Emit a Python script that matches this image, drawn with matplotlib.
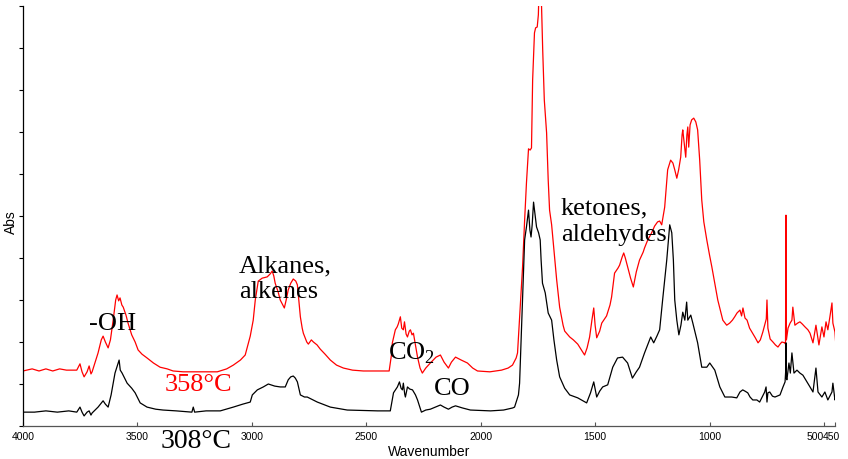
import matplotlib
matplotlib.use("Agg")
import matplotlib.pyplot as plt
import matplotlib.transforms as mtransforms

plt.rcParams['mathtext.fontset'] = 'custom'
plt.rcParams['mathtext.rm'] = 'Liberation Serif'

# ---------------- data ----------------
wn_358 = [4000, 3960, 3930, 3900, 3870, 3840, 3810, 3790, 3765, 3751, 3742, 3733, 3720, 3711, 3703, 3698,
          3672, 3658, 3650, 3640, 3628, 3618, 3606, 3595, 3589, 3582, 3576, 3568, 3562, 3550, 3541, 3525,
          3510, 3497, 3480, 3458, 3430, 3401, 3370, 3344, 3300, 3256, 3200, 3151, 3110, 3081, 3050, 3029,
          3007, 2994, 2985, 2972, 2955, 2933, 2920, 2911, 2904, 2898, 2885, 2876, 2858, 2850, 2841, 2830,
          2819, 2808, 2801, 2795, 2788, 2780, 2775, 2760, 2753, 2740, 2731, 2715, 2701, 2680, 2657, 2630,
          2600, 2560, 2513, 2450, 2400, 2390, 2386, 2373, 2365, 2360, 2351, 2345, 2338, 2333, 2326, 2320,
          2312, 2307, 2300, 2294, 2285, 2276, 2265, 2255, 2240, 2220, 2195, 2176, 2160, 2141, 2128, 2110,
          2085, 2058, 2035, 2014, 1960, 1909, 1880, 1861, 1845, 1839, 1828, 1817, 1808, 1800, 1791, 1784,
          1778, 1773, 1765, 1760, 1753, 1748, 1744, 1738, 1734, 1729, 1722, 1712, 1705, 1699, 1690, 1686,
          1675, 1668, 1655, 1640, 1633, 1611, 1595, 1576, 1560, 1546, 1535, 1524, 1514, 1506, 1500, 1493,
          1480, 1471, 1450, 1435, 1428, 1415, 1400, 1393, 1382, 1375, 1368, 1358, 1345, 1333, 1320, 1306,
          1290, 1284, 1270, 1253, 1240, 1227, 1218, 1209, 1196, 1183, 1170, 1160, 1152, 1143, 1135, 1126,
          1120, 1117, 1110, 1104, 1099, 1095, 1091, 1085, 1078, 1069, 1060, 1052, 1043, 1034, 1025, 1012,
          1000, 990, 977, 964, 950, 942, 925, 912, 900, 890, 880, 867, 860, 854, 845, 836,
          825, 815, 800, 788, 778, 767, 752, 749, 745, 735, 723, 712, 701, 692, 684, 671,
          668, 666, 664, 657, 648, 640, 636, 627, 615, 605, 595, 583, 570, 561, 548, 535,
          522, 509, 500, 491, 483, 474, 465, 461, 452, 448]
abs_358 = [0.131, 0.136, 0.131, 0.136, 0.131, 0.136, 0.133, 0.133, 0.133, 0.148, 0.129, 0.117, 0.129, 0.143, 0.124, 0.129,
           0.174, 0.205, 0.214, 0.200, 0.186, 0.205, 0.252, 0.300, 0.312, 0.298, 0.305, 0.288, 0.283, 0.264, 0.245, 0.217,
           0.200, 0.181, 0.171, 0.162, 0.150, 0.140, 0.136, 0.131, 0.129, 0.129, 0.129, 0.129, 0.136, 0.145, 0.157, 0.169,
           0.214, 0.252, 0.300, 0.345, 0.352, 0.355, 0.362, 0.369, 0.357, 0.340, 0.319, 0.300, 0.281, 0.300, 0.324, 0.340,
           0.350, 0.345, 0.336, 0.300, 0.260, 0.233, 0.221, 0.200, 0.195, 0.205, 0.200, 0.193, 0.183, 0.171, 0.157, 0.145,
           0.138, 0.133, 0.131, 0.131, 0.131, 0.169, 0.198, 0.229, 0.236, 0.243, 0.260, 0.233, 0.229, 0.248, 0.219, 0.212,
           0.226, 0.229, 0.217, 0.221, 0.193, 0.164, 0.138, 0.126, 0.138, 0.150, 0.164, 0.169, 0.152, 0.138, 0.152, 0.164,
           0.157, 0.150, 0.138, 0.131, 0.129, 0.133, 0.138, 0.145, 0.162, 0.174, 0.276, 0.379, 0.490, 0.579, 0.660, 0.657,
           0.662, 0.824, 0.936, 0.948, 0.950, 0.979, 1.062, 1.038, 0.998, 0.895, 0.776, 0.698, 0.586, 0.514, 0.479, 0.455,
           0.390, 0.348, 0.283, 0.240, 0.226, 0.212, 0.205, 0.195, 0.181, 0.169, 0.186, 0.212, 0.252, 0.281, 0.240, 0.210,
           0.226, 0.245, 0.262, 0.288, 0.307, 0.364, 0.376, 0.383, 0.402, 0.412, 0.400, 0.379, 0.352, 0.331, 0.367, 0.395,
           0.414, 0.424, 0.443, 0.460, 0.476, 0.486, 0.488, 0.479, 0.521, 0.610, 0.633, 0.626, 0.610, 0.590, 0.610, 0.640,
           0.693, 0.705, 0.669, 0.640, 0.693, 0.712, 0.664, 0.717, 0.729, 0.733, 0.724, 0.705, 0.633, 0.538, 0.486, 0.443,
           0.407, 0.379, 0.340, 0.300, 0.269, 0.252, 0.240, 0.245, 0.252, 0.260, 0.269, 0.276, 0.262, 0.281, 0.257, 0.252,
           0.233, 0.224, 0.210, 0.198, 0.205, 0.224, 0.255, 0.300, 0.233, 0.207, 0.200, 0.193, 0.188, 0.195, 0.200, 0.198,
           0.195, 0.502, 0.205, 0.233, 0.245, 0.252, 0.283, 0.240, 0.245, 0.248, 0.243, 0.236, 0.229, 0.221, 0.198, 0.240,
           0.193, 0.236, 0.212, 0.248, 0.229, 0.260, 0.293, 0.245, 0.224, 0.193]

wn_308 = [4000, 3950, 3900, 3850, 3800, 3765, 3751, 3742, 3733, 3720, 3711, 3703, 3698, 3672, 3650, 3640,
          3628, 3615, 3598, 3588, 3580, 3575, 3567, 3545, 3525, 3510, 3488, 3458, 3420, 3388, 3330, 3262,
          3256, 3250, 3200, 3138, 3081, 3040, 3007, 2998, 2976, 2950, 2928, 2900, 2876, 2854, 2841, 2830,
          2819, 2810, 2801, 2788, 2770, 2758, 2740, 2714, 2680, 2657, 2583, 2450, 2395, 2381, 2364, 2355,
          2348, 2342, 2338, 2332, 2329, 2320, 2310, 2298, 2285, 2276, 2259, 2240, 2220, 2176, 2160, 2141,
          2125, 2110, 2080, 2045, 1957, 1900, 1860, 1852, 1835, 1830, 1817, 1808, 1800, 1791, 1785, 1780,
          1775, 1769, 1762, 1756, 1747, 1740, 1736, 1730, 1718, 1705, 1690, 1680, 1668, 1655, 1633, 1611,
          1576, 1537, 1520, 1506, 1493, 1480, 1467, 1445, 1423, 1402, 1380, 1358, 1337, 1320, 1306, 1284,
          1257, 1244, 1230, 1218, 1205, 1187, 1174, 1165, 1158, 1152, 1143, 1134, 1125, 1117, 1108, 1100,
          1095, 1082, 1073, 1052, 1034, 1012, 999, 977, 955, 933, 903, 881, 867, 855, 845, 833,
          823, 811, 793, 781, 770, 759, 753, 749, 745, 737, 725, 714, 692, 679, 670, 667,
          666, 664, 662, 653, 647, 640, 636, 631, 618, 605, 592, 574, 561, 548, 535, 526,
          509, 496, 483, 465, 461, 452, 448]
abs_308 = [0.033, 0.033, 0.036, 0.033, 0.036, 0.033, 0.045, 0.033, 0.024, 0.033, 0.036, 0.026, 0.031, 0.045, 0.060, 0.052,
           0.045, 0.074, 0.126, 0.143, 0.157, 0.133, 0.126, 0.102, 0.090, 0.079, 0.055, 0.045, 0.040, 0.038, 0.036, 0.033,
           0.045, 0.033, 0.036, 0.036, 0.045, 0.052, 0.057, 0.074, 0.086, 0.093, 0.100, 0.095, 0.093, 0.093, 0.110, 0.117,
           0.119, 0.114, 0.105, 0.074, 0.069, 0.069, 0.064, 0.057, 0.050, 0.045, 0.038, 0.036, 0.036, 0.079, 0.093, 0.105,
           0.090, 0.086, 0.102, 0.076, 0.069, 0.093, 0.088, 0.086, 0.074, 0.062, 0.033, 0.038, 0.040, 0.050, 0.045, 0.040,
           0.045, 0.048, 0.043, 0.038, 0.036, 0.038, 0.043, 0.045, 0.074, 0.102, 0.300, 0.443, 0.474, 0.514, 0.467, 0.450,
           0.479, 0.533, 0.502, 0.474, 0.460, 0.443, 0.395, 0.340, 0.317, 0.269, 0.252, 0.205, 0.157, 0.117, 0.090, 0.074,
           0.067, 0.055, 0.079, 0.105, 0.069, 0.083, 0.093, 0.098, 0.140, 0.162, 0.164, 0.150, 0.114, 0.129, 0.140, 0.174,
           0.212, 0.198, 0.214, 0.229, 0.300, 0.395, 0.479, 0.460, 0.395, 0.300, 0.252, 0.217, 0.240, 0.271, 0.252, 0.295,
           0.252, 0.264, 0.245, 0.198, 0.140, 0.140, 0.150, 0.133, 0.093, 0.069, 0.069, 0.067, 0.081, 0.086, 0.083, 0.079,
           0.069, 0.062, 0.062, 0.057, 0.069, 0.081, 0.093, 0.057, 0.079, 0.081, 0.071, 0.069, 0.074, 0.093, 0.105, 0.133,
           0.198, 0.114, 0.110, 0.150, 0.126, 0.174, 0.152, 0.126, 0.133, 0.126, 0.121, 0.105, 0.093, 0.081, 0.138, 0.081,
           0.069, 0.081, 0.062, 0.081, 0.102, 0.062, 0.067]

x_ticks = [4000, 3500, 3000, 2500, 2000, 1500, 1000, 500, 450]
x_ticklabels = ["4000", "3500", "3000", "2500", "2000", "1500", "1000", "500", "450"]

# ---------------- figure ----------------
W, H = 848, 459
fig = plt.figure(figsize=(W / 100, H / 100), dpi=100)
ax = fig.add_axes([23 / W, 1 - 426 / H, 812.4 / W, 420 / H])

ax.plot(wn_358, abs_358, color='#ff0000', lw=0.9)
ax.plot(wn_308, abs_308, color='black', lw=0.9)

ax.set_xlim(4000, 450)
ax.set_ylim(0, 1.0)

ax.spines['top'].set_visible(False)
ax.spines['right'].set_visible(False)
ax.spines['bottom'].set_color('#555555')
ax.spines['left'].set_color('black')
ax.spines['bottom'].set_linewidth(0.9)
ax.spines['left'].set_linewidth(0.9)

ax.set_xticks(x_ticks)
ax.set_xticklabels(x_ticklabels, family='Liberation Sans', fontsize=7.5)
ax.tick_params(axis='x', direction='in', length=3, width=0.8, color='#555555', pad=4)
# the crowded end labels: "500" ends at its tick, "450" sits right after it
labels = ax.get_xticklabels()
labels[-2].set_ha('right')
labels[-1].set_transform(labels[-1].get_transform() +
                         mtransforms.ScaledTranslation(-4 / 100, 0, fig.dpi_scale_trans))

ax.set_yticks([i / 10 for i in range(11)])
ax.set_yticklabels([])
ax.tick_params(axis='y', direction='out', length=3, width=0.8)

ax.set_xlabel('Wavenumber', family='Liberation Sans', fontsize=10)
ax.xaxis.set_label_coords(0.5, -0.045)
ax.xaxis.label.set_va('top')
ax.set_ylabel('Abs', family='Liberation Sans', fontsize=10)
ax.yaxis.set_label_coords(-0.006, 0.485)


def ftext(px, py, s, color='black', size=19):
    fig.text(px / W, 1 - py / H, s, color=color, fontsize=size,
             family='Liberation Serif', va='baseline', ha='left')


ftext(89, 330, '-OH')
ftext(239, 272, 'Alkanes,')
ftext(239, 298, 'alkenes')
ftext(165, 391, '358°C', color='#ff0000')
ftext(161, 448, '308°C', size=20)
ftext(388, 360, r'CO$_\mathrm{2}$')
ftext(434, 395, 'CO')
ftext(561, 214, 'ketones,')
ftext(561, 241, 'aldehydes')

fig.savefig('out.png', dpi=100)
